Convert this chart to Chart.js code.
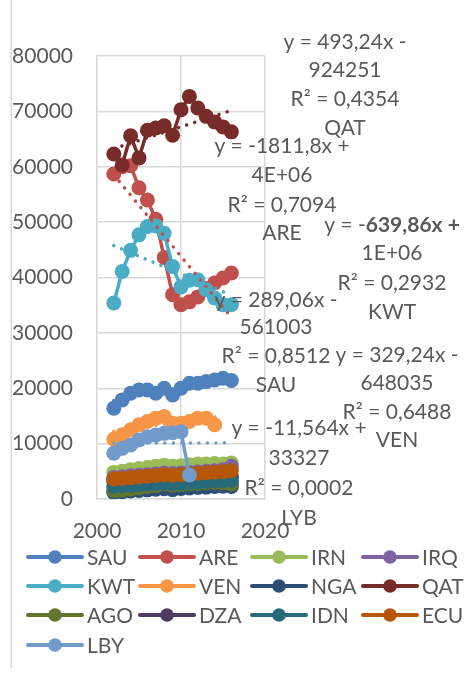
<!DOCTYPE html>
<html><head><meta charset="utf-8">
<script src="https://cdn.jsdelivr.net/npm/chart.js@4/dist/chart.umd.min.js"></script>
<style>html,body{margin:0;padding:0;background:#fff;}canvas{display:block}</style>
</head><body>
<canvas id="c" width="466" height="674"></canvas>
<script>
// ---------- data ----------
const years = [2002,2003,2004,2005,2006,2007,2008,2009,2010,2011,2012,2013,2014,2015,2016];
const seriesNames = ['SAU','ARE','IRN','IRQ','KWT','VEN','NGA','QAT','AGO','DZA','IDN','ECU','LBY'];
const SAU = [16400,17900,19100,19700,19700,19100,20000,18800,20000,20900,20900,21200,21500,21800,21400];
const ARE = [58700,60000,60200,56200,54000,50500,43600,36900,35100,35600,36500,38000,39000,39900,40800];
const IRN = [4800,5000,5300,5500,5700,5900,6100,5900,6000,6200,6300,6300,6400,6300,6500];
const IRQ = [3900,4000,4200,4300,4400,4500,4700,4600,4700,4800,4900,5000,5100,5300,5900];
const KWT = [35400,41100,44900,47700,49200,49300,48000,42000,38300,39500,39600,37800,36300,35100,35100];
const VEN = [10800,11600,12500,13400,14000,14600,14900,13700,13700,14000,14600,14600,13400,null,null];
const NGA = [1200,1300,1450,1550,1650,1750,1850,1700,1900,2000,2100,2150,2250,2300,2250];
const QAT = [62300,60300,65600,61600,66600,67000,67400,65700,70300,72700,70600,69100,68100,67200,66300];
const AGO = [1500,1600,1800,2000,2200,2400,2700,2500,2600,2700,2800,2900,3000,2900,2700];
const DZA = [3200,3300,3400,3500,3600,3700,3800,3700,3800,3900,3950,4000,4050,4100,4100];
const IDN = [2300,2400,2500,2600,2700,2800,2900,2800,2900,3000,3100,3200,3300,3300,3400];
const ECU = [3600,3700,3850,4000,4100,4250,4400,4300,4400,4550,4650,4750,4850,4950,5100];
const LBY = [8250,9150,9750,10650,11250,11560,11860,11970,12160,4330,null,null,null,null,null];
const seriesValues = [SAU,ARE,IRN,IRQ,KWT,VEN,NGA,QAT,AGO,DZA,IDN,ECU,LBY];
const seriesColors = ['#4F81BD','#C0504D','#9BBB59','#8064A2','#4BACC6','#F79646','#2C4D75','#772C2A','#5F7530','#4D3B62','#276A7C','#B65708','#729ACA'];

// linear trendlines (fitted to the series data)
const trendSeries = ['QAT','ARE','KWT','SAU','VEN','LBY'];
const trendStart = [2002,2002,2002,2002,2002,2002];
const trendEnd   = [2016,2016,2016,2016,2015,2016];
const trendText = [
  ['y = 493,24x -','924251','R² = 0,4354','QAT'],
  ['y = -1811,8x +','4E+06','R² = 0,7094','ARE'],
  ['y = -639,86x +','1E+06','R² = 0,2932','KWT'],
  ['y = 289,06x -','561003','R² = 0,8512','SAU'],
  ['y = 329,24x -','648035','R² = 0,6488','VEN'],
  ['y = -11,564x +','33327','R² = 0,0002','LYB']
];
const xTicks = [2000,2010,2020];
const yMax = 80000, yStep = 10000;

// ---------- layout (positions only) ----------
const labelPos = [
  {x:345, y:[42,70,99,128]},
  {x:282, y:[146,175,205,233]},
  {x:392, y:[225,253,283,312]},
  {x:276, y:[300,327,356,385]},
  {x:397, y:[355,383,412,440]},
  {x:299, y:[428,458,488,518]}
];
const TXT = '#595959';
const FONT = 'Lato, "Open Sans", sans-serif';
const FS = 21;

function fit(vals){
  const xs=[],ys=[];
  vals.forEach((v,i)=>{ if(v!==null){xs.push(years[i]);ys.push(v);} });
  const n=xs.length, mx=xs.reduce((a,b)=>a+b)/n, my=ys.reduce((a,b)=>a+b)/n;
  let sxy=0,sxx=0; for(let i=0;i<n;i++){sxy+=(xs[i]-mx)*(ys[i]-my);sxx+=(xs[i]-mx)**2;}
  const b=sxy/sxx; return {a:my-b*mx,b};
}

const datasets = [];
seriesNames.forEach((name,i)=>{
  datasets.push({
    label:name,
    data: years.map((y,j)=>({x:y,y:seriesValues[i][j]})).filter(p=>p.y!==null),
    showLine:true, borderColor:seriesColors[i], backgroundColor:seriesColors[i],
    borderWidth:3.5, pointRadius:7.5, pointBorderWidth:0, pointHoverRadius:7.5,
    order:100-i
  });
});
trendSeries.forEach((name,k)=>{
  const i = seriesNames.indexOf(name);
  const f = fit(seriesValues[i]);
  datasets.push({
    label:name+' trend',
    data:[{x:trendStart[k],y:f.a+f.b*trendStart[k]},{x:trendEnd[k],y:f.a+f.b*trendEnd[k]}],
    showLine:true, borderColor:seriesColors[i], borderWidth:3.5, borderDash:[0.01,8.5],
    borderCapStyle:'round', pointRadius:0, order:1
  });
});

const decor = {
  id:'decor',
  beforeDraw(chart){
    const c=chart.ctx; c.save();
    c.fillStyle='#fff'; c.fillRect(0,0,chart.width,chart.height);
    c.strokeStyle='#D9D9D9'; c.lineWidth=1.5;
    c.beginPath(); c.moveTo(11.25,0); c.lineTo(11.25,668); c.stroke();
    c.restore();
  },
  afterDraw(chart){
    const c=chart.ctx; c.save();
    c.fillStyle=TXT; c.textBaseline='middle';
    trendText.forEach((lines,k)=>{
      lines.forEach((t,l)=>{
        const x=labelPos[k].x, y=labelPos[k].y[l];
        if(k===2 && l===0){
          const a='y = -', b='639,86x +';
          c.font=FS+'px '+FONT; const wa=c.measureText(a).width;
          c.font='bold '+FS+'px '+FONT; const wb=c.measureText(b).width;
          const x0=x-(wa+wb)/2;
          c.textAlign='left';
          c.font=FS+'px '+FONT; c.fillText(a,x0,y);
          c.font='bold '+FS+'px '+FONT; c.fillText(b,x0+wa,y);
        } else {
          c.font=FS+'px '+FONT; c.textAlign='center'; c.fillText(t,x,y);
        }
      });
    });
    const colX=[28,140,252,363], rowY=[557,586,615,645];
    seriesNames.forEach((name,i)=>{
      const x=colX[i%4], y=rowY[Math.floor(i/4)];
      c.strokeStyle=seriesColors[i]; c.lineWidth=4; c.lineCap='round';
      c.beginPath(); c.moveTo(x,y); c.lineTo(x+54,y); c.stroke();
      c.fillStyle=seriesColors[i]; c.beginPath(); c.arc(x+27,y,6.8,0,Math.PI*2); c.fill();
      c.fillStyle=TXT; c.font=FS+'px '+FONT; c.textAlign='left'; c.fillText(name,x+59,y+1);
    });
    c.restore();
  }
};

new Chart(document.getElementById('c'),{
  type:'scatter',
  data:{datasets},
  options:{
    responsive:false, animation:false, devicePixelRatio:1,
    layout:{padding:{top:56,right:201,bottom:130,left:0}},
    plugins:{legend:{display:false},tooltip:{enabled:false}},
    scales:{
      x:{type:'linear',min:xTicks[0],max:xTicks[xTicks.length-1],
        afterBuildTicks(s){s.ticks=xTicks.map(v=>({value:v}));},
        ticks:{color:TXT,font:{family:FONT,size:FS},padding:20,callback:v=>String(v)},
        grid:{color:'#D9D9D9',lineWidth:1.5,drawTicks:false},
        border:{color:'#D9D9D9',width:1.5},
        afterFit(s){s.height=45;}},
      y:{min:0,max:yMax,
        ticks:{stepSize:yStep,color:TXT,font:{family:FONT,size:FS},padding:24,callback:v=>String(v)},
        grid:{color:'#D9D9D9',lineWidth:1.5,drawTicks:false},
        border:{color:'#D9D9D9',width:1.5},
        afterFit(s){s.width=97;}}
    }
  },
  plugins:[decor]
});
</script>
</body></html>
